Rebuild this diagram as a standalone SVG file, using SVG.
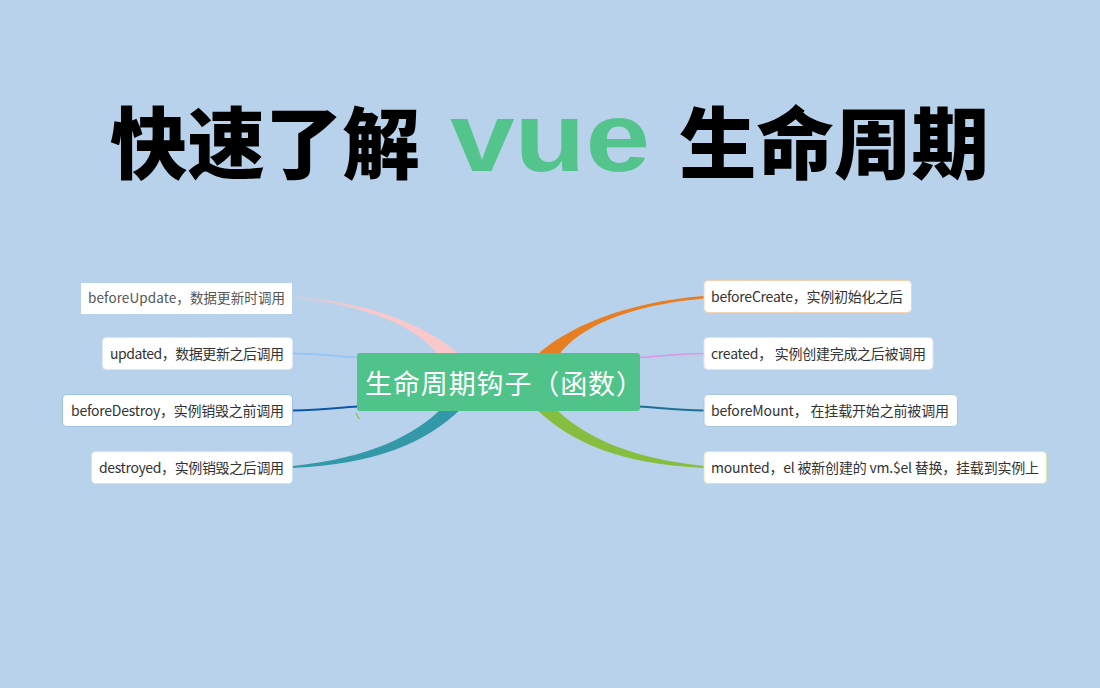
<svg xmlns="http://www.w3.org/2000/svg" width="1100" height="688" viewBox="0 0 1100 688">
<defs>
<style>
.t{font-family:"Noto Sans CJK SC","Liberation Sans",sans-serif;font-size:14px;fill:#333}
.box{fill:#fff;stroke-width:1}
.title{font-family:"Noto Sans CJK SC","Liberation Sans",sans-serif;font-weight:900;font-size:78px;fill:#000}
</style>
<linearGradient id="pinkG" x1="293" y1="0" x2="460" y2="0" gradientUnits="userSpaceOnUse">
<stop offset="0" stop-color="#F9C8CB" stop-opacity="0.15"/>
<stop offset="0.45" stop-color="#F9C8CB" stop-opacity="1"/>
<stop offset="1" stop-color="#F9C8CB"/>
</linearGradient>
</defs>
<rect width="1100" height="688" fill="#B8D2EB"/>
<g id="title">
<text class="title" x="110" y="173" textLength="310" lengthAdjust="spacingAndGlyphs">快速了解</text>
<text x="450" y="171" textLength="200" lengthAdjust="spacingAndGlyphs" style="font-family:'Liberation Sans',sans-serif;font-weight:bold;font-size:98px;fill:#52C48C">vue</text>
<text class="title" x="679" y="173" textLength="310" lengthAdjust="spacingAndGlyphs">生命周期</text>
</g>
<g id="connectors">
<path d="M 536 356 C 565 328 625 302 704 296 L 704 298.5 C 630 305 580 326 558 356 Z" fill="#E87E22"/>
<path d="M 461 356 C 432 328 372 302 293 296 L 293 298.5 C 367 305 417 326 439 356 Z" fill="url(#pinkG)"/>
<path d="M 442 408 C 415 435 370 458 293 466 L 293 468 C 375 464 425 444 462 408 Z" fill="#3399A8"/>
<path d="M 555 408 C 582 435 627 458 704 466 L 704 468 C 622 464 572 444 535 408 Z" fill="#86BE3F"/>
<path d="M 293 353.5 C 320 354 335 356 358 357.5" fill="none" stroke="#8EC4F6" stroke-width="1.3"/>
<path d="M 639 357.5 C 662 356 677 354 704 353.5" fill="none" stroke="#D896E4" stroke-width="1.3"/>
<path d="M 293 410.5 C 320 410 335 408 358 406.5" fill="none" stroke="#0D57A8" stroke-width="1.8"/>
<path d="M 639 406.5 C 662 408 677 410 704 410.5" fill="none" stroke="#1F6F96" stroke-width="1.8"/>
<path d="M 355.8 413 L 359.3 419" fill="none" stroke="#86BE3F" stroke-width="1.2"/>
</g>
<g id="center">
<rect x="357" y="353" width="283" height="58" rx="3" fill="#4FC38A"/>
<text x="365" y="394" textLength="278" style="font-family:'Noto Sans CJK SC',sans-serif;font-size:27px;fill:#fff">生命周期钩子（函数）</text>
</g>
<g id="beforeUpdate">
<rect x="81" y="283" width="211" height="31" fill="#fff"/>
<text class="t" x="88" y="303" textLength="197" style="fill:#555;font-size:13.5px">beforeUpdate，数据更新时调用</text>
</g>
<g id="updated">
<rect class="box" x="102.5" y="337.5" width="190" height="32" rx="4" stroke="#DCE8F5"/>
<text class="t" x="110" y="359" textLength="174">updated，数据更新之后调用</text>
</g>
<g id="beforeDestroy">
<rect class="box" x="62.5" y="394.5" width="230" height="32" rx="4" stroke="#9DBFE0"/>
<text class="t" x="71" y="416" textLength="213">beforeDestroy，实例销毁之前调用</text>
</g>
<g id="destroyed">
<rect class="box" x="91.5" y="451.5" width="201" height="32" rx="4" stroke="#CDE6EA"/>
<text class="t" x="99" y="473" textLength="185">destroyed，实例销毁之后调用</text>
</g>
<g id="beforeCreate">
<rect class="box" x="704" y="280.5" width="207.5" height="32" rx="4" stroke="#F1D2B4"/>
<text class="t" x="711" y="302" textLength="192">beforeCreate，实例初始化之后</text>
</g>
<g id="created">
<rect class="box" x="704" y="337.5" width="229" height="32" rx="4" stroke="#EBDDF3"/>
<text class="t" x="711" y="359" textLength="215">created， 实例创建完成之后被调用</text>
</g>
<g id="beforeMount">
<rect class="box" x="704" y="394.5" width="253.5" height="32" rx="4" stroke="#A9C8DC"/>
<text class="t" x="711" y="416" textLength="238">beforeMount， 在挂载开始之前被调用</text>
</g>
<g id="mounted">
<rect class="box" x="704" y="451.5" width="342.5" height="32" rx="4" stroke="#D5E9B0"/>
<text class="t" x="711" y="473" textLength="328">mounted，el 被新创建的 vm.$el 替换，挂载到实例上</text>
</g>
</svg>
